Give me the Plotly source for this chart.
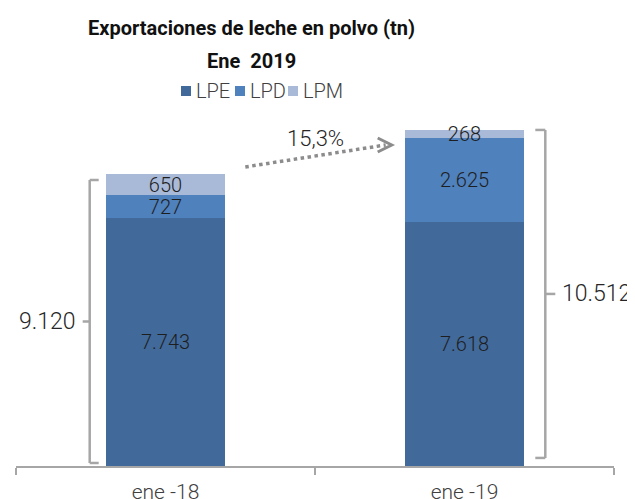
import plotly.graph_objects as go

# ---------------- data ----------------
categories = ["ene -18", "ene -19"]
series_names = ["LPE", "LPD", "LPM"]
lpe = [7743, 7618]
lpd = [727, 2625]
lpm = [650, 268]
totals = [9120, 10512]          # totals as printed on the chart
series_values = [lpe, lpd, lpm]
colors = ["#416A9B", "#4F81BD", "#A9B9D8"]
title_line1 = "Exportaciones de leche en polvo (tn)"
title_line2 = "Ene\u00a0 2019"

growth = (totals[1] / totals[0] - 1) * 100

# ---------------- layout geometry (style) ----------------
OFF = 8                      # page body margin of the browser
W, H = 635 - OFF, 499 - OFF
ML, MR, MT, MB = 16 - OFF, 21, 82 - OFF, 33
YMAX = 12000
PW, PH = W - ML - MR, H - MT - MB
CAT_PX = PW / 2.0
BAR_W = 0.4

LABEL_FONT = "Roboto, 'Open Sans', sans-serif"
TITLE_FONT = "Roboto, 'Open Sans', sans-serif"
GREY = "#A6A6A6"


def px_to_paper_x(px):
    # px measured on the final screenshot
    return (px - OFF - ML) / PW


def px_to_paper_y(py):
    return (H - MB - (py - OFF)) / PH


def fmt(v):
    return f"{v:,.0f}".replace(",", ".")


fig = go.Figure()
for name, vals, col in zip(series_names, series_values, colors):
    fig.add_trace(go.Bar(
        x=categories, y=vals, name=name, width=BAR_W,
        marker=dict(color=col, line=dict(width=0)),
        texttemplate="%{y:,.0f}", textposition="inside",
        insidetextanchor="middle",
        textfont=dict(family=LABEL_FONT, size=20, color="#1E1E1E", weight=300),
        showlegend=False, hoverinfo="x+y+name",
    ))

shapes = []
annotations = []

# ---------------- brackets around totals ----------------
# (side, gap from bar edge px, cap px, tick px, bottom frac, top frac)
bracket_specs = [(-1, 16, 9, 7, 0.0103, 0.980), (1, 21, 10, 10, 0.024, 0.999)]
for i, (side, gap, cap, tick, fb, ft) in enumerate(bracket_specs):
    edge = i + side * BAR_W / 2
    xv = edge + side * gap / CAT_PX
    xc = xv - side * cap / CAT_PX
    xt = xv + side * tick / CAT_PX
    y0, y1 = totals[i] * fb, totals[i] * ft
    ym = (y0 + y1) / 2
    line = dict(color=GREY, width=2.5)
    for (a, b, c, d) in [(xv, y0, xv, y1), (xv, y0, xc, y0), (xv, y1, xc, y1), (xv, ym, xt, ym)]:
        shapes.append(dict(type="line", xref="x", yref="y", x0=a, y0=b, x1=c, y1=d,
                           line=line, layer="above"))
    annotations.append(dict(
        x=xt, y=ym, xref="x", yref="y", text=fmt(totals[i]), showarrow=False,
        xanchor="right" if side < 0 else "left", yanchor="middle",
        xshift=-5 if side < 0 else 5,
        font=dict(family=LABEL_FONT, size=23, color="#262626", weight=300),
    ))

# ---------------- growth arrow ----------------
ax0 = 0 + BAR_W / 2 + 20 / CAT_PX
ax1 = 1 - BAR_W / 2 - 13 / CAT_PX
ay0 = totals[0] + 225
ay1 = totals[1] - 480
shapes.append(dict(type="line", xref="x", yref="y", x0=ax0, y0=ay0, x1=ax1 - 6 / CAT_PX, y1=ay1,
                   line=dict(color="#8C8C8C", width=3.5, dash="dot")))
shapes.append(dict(type="path", xref="x", yref="y", xsizemode="pixel", ysizemode="pixel",
                   xanchor=ax1, yanchor=ay1, path="M-14,7 L0,0 L-14,-7",
                   line=dict(color="#8C8C8C", width=3)))
annotations.append(dict(
    x=(ax0 + ax1) / 2, y=(ay0 + ay1) / 2, xref="x", yref="y",
    text=f"{growth:.1f}%".replace(".", ","), showarrow=False,
    yshift=17, xshift=-3, xanchor="center", yanchor="middle",
    font=dict(family=LABEL_FONT, size=22, color="#262626", weight=300),
))

# ---------------- title ----------------
title_cx = px_to_paper_x(251)
for txt, py in [(title_line1, 28), (title_line2, 61)]:
    annotations.append(dict(
        x=title_cx, y=px_to_paper_y(py), xref="paper", yref="paper", text=txt,
        showarrow=False, xanchor="center", yanchor="middle",
        font=dict(family=TITLE_FONT, size=20, color="#111111", weight="bold"),
    ))

# ---------------- legend (manual) ----------------
leg_sq_px = [181, 235, 288]
leg_cy = 91
for name, col, sx in zip(series_names, colors, leg_sq_px):
    shapes.append(dict(type="rect", xref="paper", yref="paper",
                       x0=px_to_paper_x(sx), x1=px_to_paper_x(sx + 10),
                       y0=px_to_paper_y(leg_cy + 5), y1=px_to_paper_y(leg_cy - 5),
                       fillcolor=col, line=dict(width=0)))
    annotations.append(dict(
        x=px_to_paper_x(sx + 13), y=px_to_paper_y(leg_cy), xref="paper", yref="paper",
        text=name, showarrow=False, xanchor="left", yanchor="middle",
        font=dict(family=LABEL_FONT, size=20, color="#404040", weight=300),
    ))

fig.update_layout(
    width=W, height=H,
    margin=dict(l=ML, r=MR, t=MT, b=MB, autoexpand=False),
    paper_bgcolor="white", plot_bgcolor="white",
    barmode="stack", separators=",.",
    uniformtext=dict(minsize=20, mode="show"),
    shapes=shapes, annotations=annotations, showlegend=False,
    xaxis=dict(type="category", range=[-0.5, 1.5], tickson="boundaries",
               ticks="outside", ticklen=7, tickcolor=GREY, tickwidth=1.5,
               showline=True, linecolor=GREY, linewidth=1.5, showgrid=False,
               ticklabelstandoff=6,
               tickfont=dict(family=LABEL_FONT, size=21, color="#404040", weight=300),
               fixedrange=True),
    yaxis=dict(range=[0, YMAX], visible=False, fixedrange=True),
)

fig.write_html("out.html")
